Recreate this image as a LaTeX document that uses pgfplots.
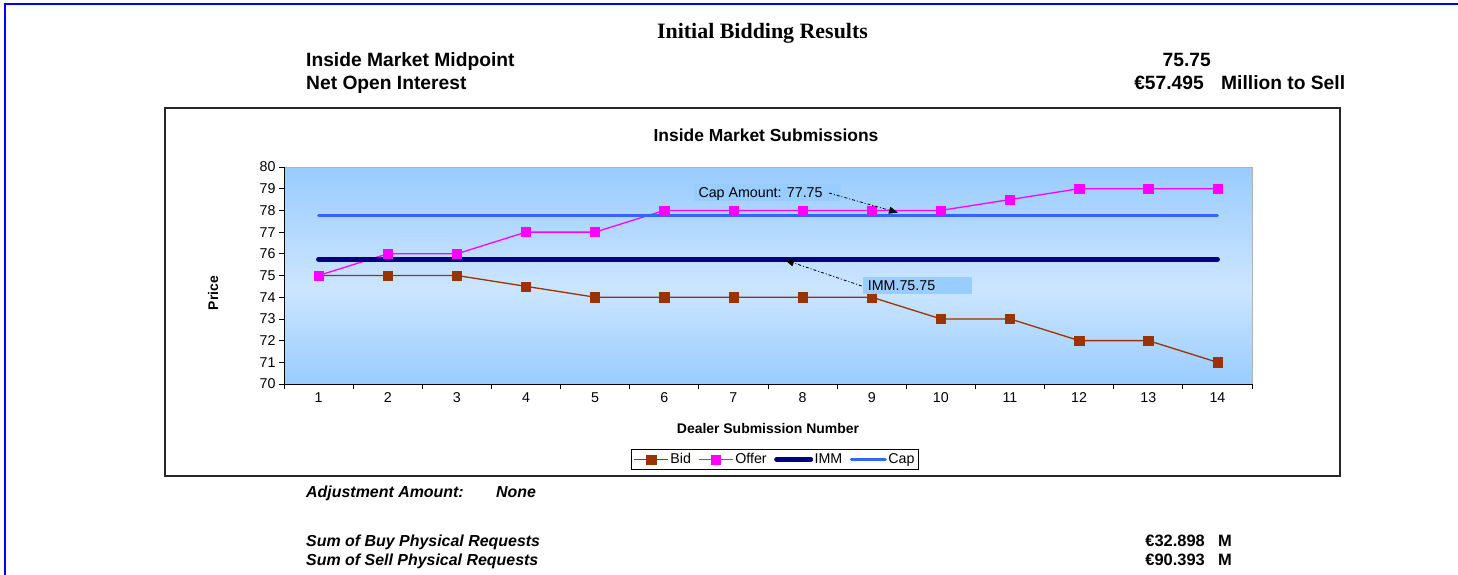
\documentclass[border=0pt]{standalone}
\usepackage{pgfplots}
\pgfplotsset{compat=1.18}
\usepackage{fontspec}
\setmainfont{Liberation Sans}
\newfontfamily\seriffont{Liberation Serif}
\usetikzlibrary{arrows.meta}
\definecolor{bidc}{HTML}{993300}
\definecolor{offc}{HTML}{FF00FF}
\definecolor{immc}{HTML}{000080}
\definecolor{capc}{HTML}{3366FF}
\definecolor{bgdark}{HTML}{99CCFF}
\definecolor{bglight}{HTML}{CCE5FF}
\pgfdeclareverticalshading{plotbg}{100bp}{color(0bp)=(bgdark); color(25bp)=(bgdark); color(47bp)=(bglight); color(75bp)=(bgdark); color(100bp)=(bgdark)}
\newcommand\fs[1]{\fontsize{#1}{#1}\selectfont}

\begin{document}
\begin{tikzpicture}
\path[use as bounding box] (0,0) rectangle (1458bp,-575bp);
\begin{scope}[x=1bp,y=-1bp]
\draw[blue, line width=1.5bp] (5,575) -- (5,4) -- (1458,4);
\node[anchor=base, inner sep=0] at (762.5,38.3) {\seriffont\bfseries\fs{22}Initial Bidding Results};
\node[anchor=base west, inner sep=0, font=\bfseries\fs{19.3}] at (306,66) {Inside Market Midpoint};
\node[anchor=base west, inner sep=0, font=\bfseries\fs{19.3}] at (306,89) {Net Open Interest};
\node[anchor=base east, inner sep=0, font=\bfseries\fs{19.3}] at (1211,66) {75.75};
\node[anchor=base east, inner sep=0, font=\bfseries\fs{19.3}] at (1204,89) {€57.495};
\node[anchor=base west, inner sep=0, font=\bfseries\fs{19.3}] at (1221,89) {Million to Sell};
\draw[black!85, line width=1.5bp, fill=white] (165,108) rectangle (1340,476);
\node[anchor=base, inner sep=0, font=\bfseries\fs{17.5}] at (766,141.7) {Inside Market Submissions};
\node[anchor=base west, inner sep=0, font=\bfseries\itshape\fs{16}] at (306,497.3) {Adjustment Amount:};
\node[anchor=base west, inner sep=0, font=\bfseries\itshape\fs{16}] at (496,497.3) {None};
\node[anchor=base west, inner sep=0, font=\bfseries\itshape\fs{16}] at (306,546) {Sum of Buy Physical Requests};
\node[anchor=base west, inner sep=0, font=\bfseries\itshape\fs{16}] at (306,565) {Sum of Sell Physical Requests};
\node[anchor=base east, inner sep=0, font=\bfseries\fs{16.5}] at (1205,546) {€32.898};
\node[anchor=base west, inner sep=0, font=\bfseries\fs{16.5}] at (1218,546) {M};
\node[anchor=base east, inner sep=0, font=\bfseries\fs{16.5}] at (1205,565) {€90.393};
\node[anchor=base west, inner sep=0, font=\bfseries\fs{16.5}] at (1218,565) {M};
\end{scope}

\begin{axis}[
  at={(284bp,-384bp)}, anchor=south west,
  scale only axis, width=968bp, height=217bp,
  xmin=0.5, xmax=14.5, ymin=70, ymax=80,
  axis x line*=bottom, axis y line*=left,
  axis line style={black, line width=0.8bp},
  axis background/.style={shade, shading=plotbg, draw=gray!60, line width=1bp},
  xtick={1,...,14}, minor xtick={0.5,1.5,...,14.5},
  ytick={70,71,...,80},
  tick align=outside,
  major tick length=5bp, minor tick length=5bp,
  tick style={black, line width=0.8bp},
  major x tick style={draw=none},
  ticklabel style={font=\fs{14.3}},
  /pgf/number format/assume math mode=true,
  xlabel={Dealer Submission Number}, ylabel={Price},
  label style={font=\bfseries\fs{14}},
  xlabel style={at={(axis description cs:0.5,-0.203)}, anchor=center},
  ylabel style={at={(axis description cs:-0.0733,0.419)}, anchor=center},
  legend style={at={(axis description cs:0.507,-0.348)}, anchor=center,
    legend columns=-1, draw=black, font=\fs{14.3}, inner sep=2.5bp,
    nodes={inner sep=1.5bp},
    /tikz/every even column/.append style={column sep=6bp}},
  legend image code/.code={\draw[mark repeat=2,mark phase=2] plot coordinates {(0bp,0bp) (17bp,0bp) (34bp,0bp)};},
]
\addplot[bidc, line width=1.3bp, mark=square*, mark size=4.6bp, mark options={solid, fill=bidc, line width=0.5bp}] coordinates {
(1,75) (2,75) (3,75) (4,74.5) (5,74) (6,74) (7,74) (8,74) (9,74) (10,73) (11,73) (12,72) (13,72) (14,71)};
\addlegendentry{Bid}
\addplot[offc, line width=1.3bp, mark=square*, mark size=4.6bp, mark options={solid, fill=offc, line width=0.5bp}] coordinates {
(1,75) (2,76) (3,76) (4,77) (5,77) (6,78) (7,78) (8,78) (9,78) (10,78) (11,78.5) (12,79) (13,79) (14,79)};
\addlegendentry{Offer}
\addplot[immc, line width=5bp, line cap=round, no marks] coordinates {(1,75.75) (14,75.75)};
\addlegendentry{IMM}
\addplot[capc, line width=3bp, line cap=round, no marks] coordinates {(1,77.75) (14,77.75)};
\addlegendentry{Cap}
\end{axis}

\begin{scope}[x=1bp,y=-1bp]
\fill[bgdark] (694,184) rectangle (841,200.7);
\node[anchor=base west, inner sep=0, font=\fs{14.3}] at (698.3,197.7) {Cap Amount: 77.75};
\draw[black, line width=0.8bp, dash pattern=on 3bp off 2bp on 1bp off 2bp, -{Triangle[length=9bp,width=7bp]}] (829,193) -- (898,212.7);
\fill[bgdark] (863,277) rectangle (971.7,294);
\node[anchor=base west, inner sep=0, font=\fs{14.3}] at (867.7,290.7) {IMM.75.75};
\draw[black, line width=0.8bp, dash pattern=on 3bp off 2bp on 1bp off 2bp, -{Triangle[length=9bp,width=7bp]}] (861.7,286) -- (785,260);
\end{scope}
\end{tikzpicture}
\end{document}
